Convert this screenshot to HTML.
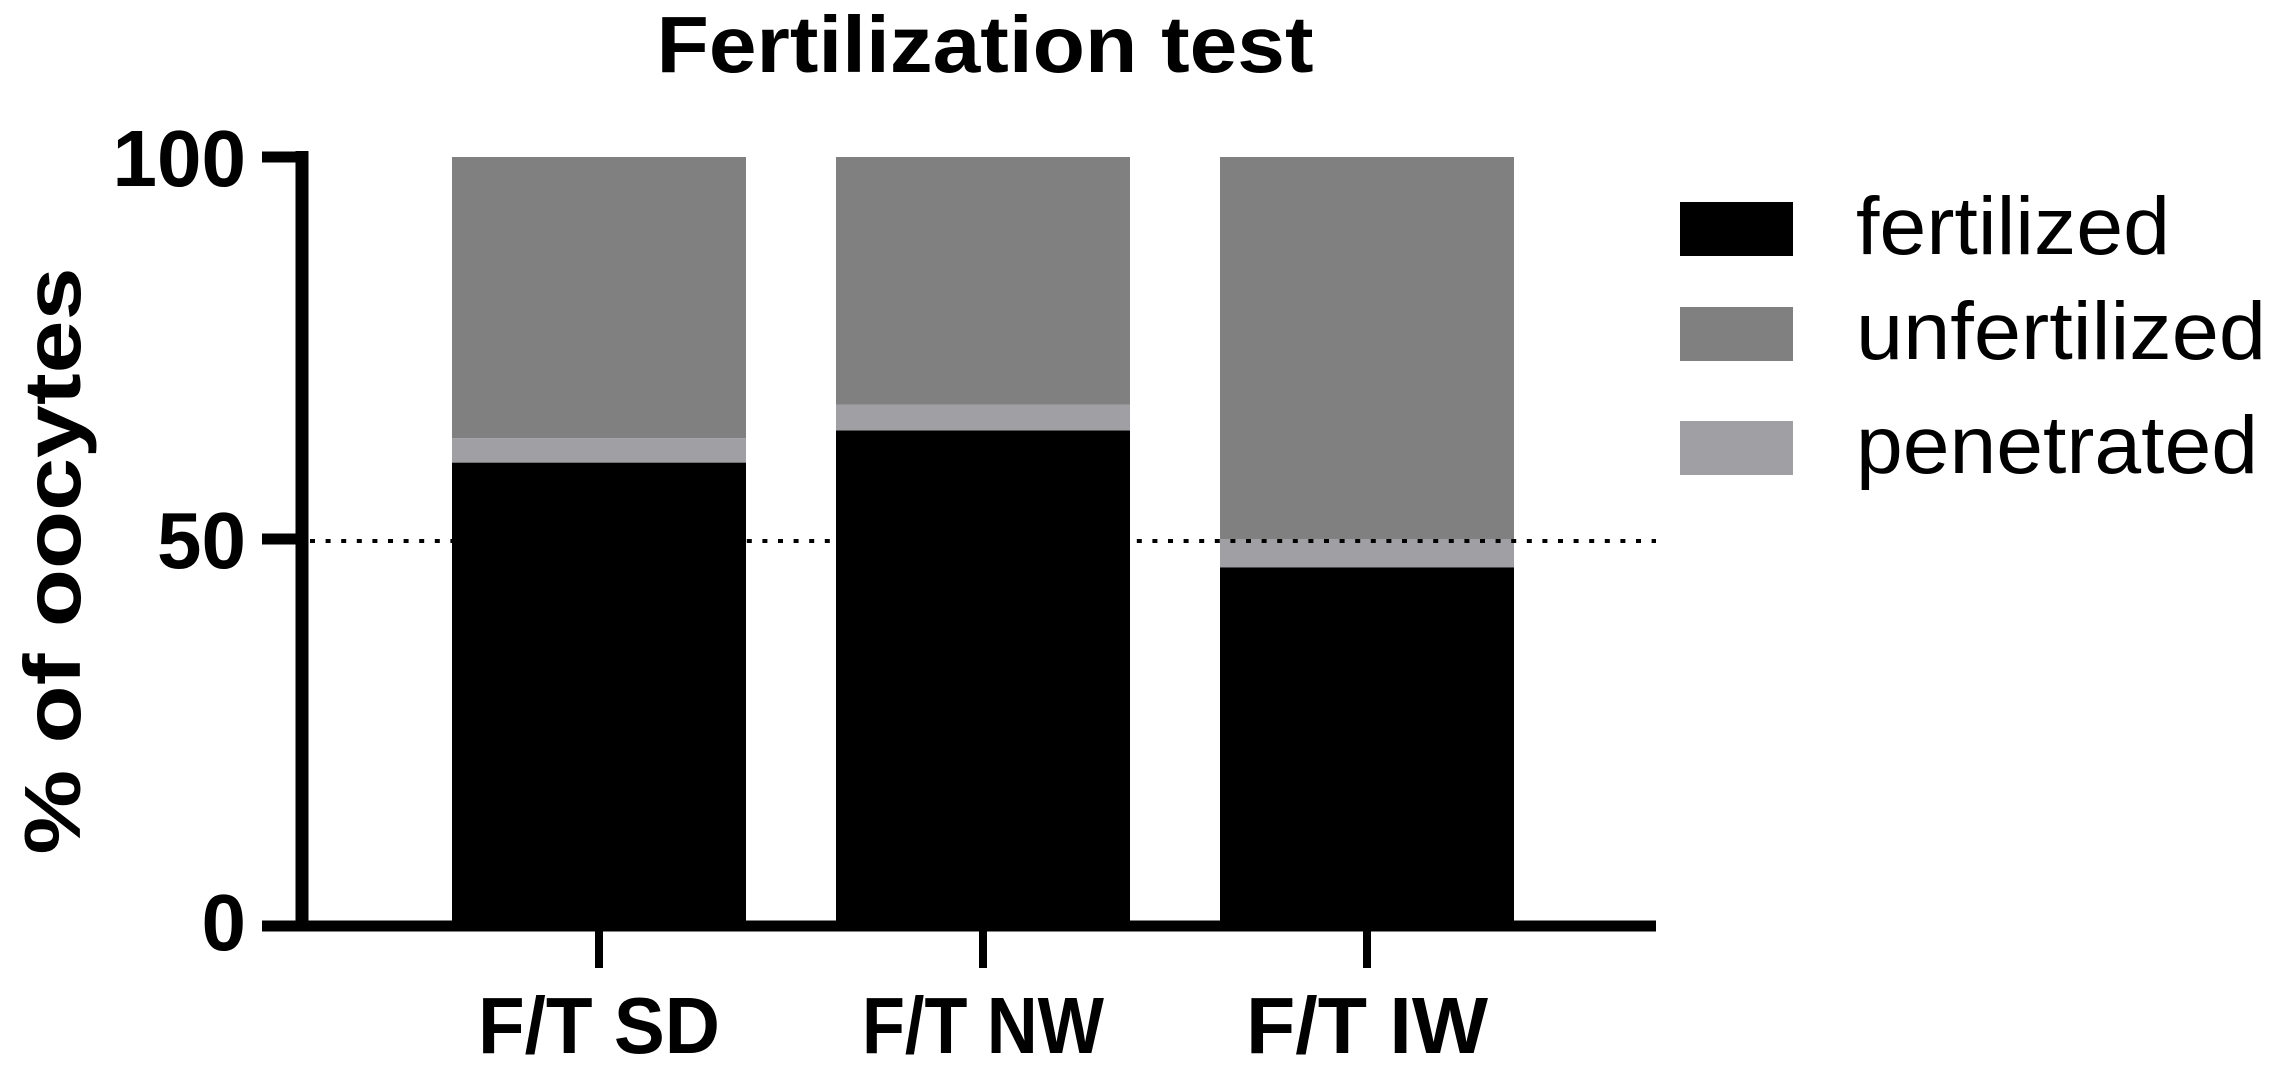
<!DOCTYPE html>
<html><head><meta charset="utf-8"><style>
html,body{margin:0;padding:0;background:#fff;}
svg{display:block;font-family:"Liberation Sans",Arial,sans-serif;}
</style></head><body>
<svg id="chart" width="2270" height="1065" viewBox="0 0 2270 1065" xmlns="http://www.w3.org/2000/svg">
<text x="985" y="72" font-size="80" font-weight="bold" text-anchor="middle" textLength="657" lengthAdjust="spacingAndGlyphs">Fertilization test</text>
<text transform="translate(80,561) rotate(-90)" font-size="80" font-weight="bold" text-anchor="middle" textLength="587" lengthAdjust="spacingAndGlyphs">% of oocytes</text>
<g id="bars"></g>
<g id="axes"></g>
<g id="legend"></g>
</svg>
<script>
const categories = ["F/T SD", "F/T NW", "F/T IW"];
const fertilized = [60, 64.2, 46.3];
const penetrated = [3.2, 3.4, 3.7];
const unfertilized = [36.8, 32.4, 50];
const yTicks = [0, 50, 100];
const refLine = [50];
const seriesNames = ["fertilized", "unfertilized", "penetrated"];

const NS = "http://www.w3.org/2000/svg";
const Y0 = 921, Y100 = 157;
function yScale(v){ return Y0 + (Y100 - Y0) * v / 100; }
const X_FIRST = 599, X_STEP = 384, BAR_W = 294;
function xScale(i){ return X_FIRST + i * X_STEP; }
function mk(tag, attrs, parent){
  const e = document.createElementNS(NS, tag);
  for (const k in attrs) e.setAttribute(k, attrs[k]);
  parent.appendChild(e);
  return e;
}
const colors = {fertilized:"#000000", unfertilized:"#808080", penetrated:"#a0a0a4"};
const bars = document.getElementById("bars");
categories.forEach((c, i) => {
  const x = xScale(i) - BAR_W/2;
  const segs = [["fertilized", fertilized[i]], ["penetrated", penetrated[i]], ["unfertilized", unfertilized[i]]];
  let base = 0;
  segs.forEach(([name, v]) => {
    const r = mk("rect", {x: x, y: yScale(base + v), width: BAR_W, height: yScale(base) - yScale(base + v), fill: colors[name]}, bars);
    
    
    base += v;
  });
});
const axes = document.getElementById("axes");
refLine.forEach(v => {
  const l = mk("line", {x1: 310, x2: 1656, y1: yScale(v) + 2, y2: yScale(v) + 2, stroke: "#000", "stroke-width": 4, "stroke-dasharray": "5 10.6"}, axes);
  
  
});
let ya = mk("line", {x1: 302, x2: 302, y1: yScale(100) - 6, y2: Y0 + 10, stroke: "#000", "stroke-width": 13}, axes);


let xa = mk("line", {x1: 262, x2: 1656, y1: Y0 + 5, y2: Y0 + 5, stroke: "#000", "stroke-width": 11}, axes);


yTicks.forEach(v => {
  const t = mk("line", {x1: 262, x2: 302, y1: yScale(v) + (v === 0 ? 5 : 0), y2: yScale(v) + (v === 0 ? 5 : 0), stroke: "#000", "stroke-width": 11}, axes);
  
  
  const tx = mk("text", {x: 246, y: yScale(v) + 29, "font-size": 80, "font-weight": "bold", "text-anchor": "end"}, axes);
  tx.textContent = String(v);
  
  
});
categories.forEach((c, i) => {
  const t = mk("line", {x1: xScale(i), x2: xScale(i), y1: Y0 + 5, y2: 968, stroke: "#000", "stroke-width": 8}, axes);
  
  
  const tx = mk("text", {x: xScale(i), y: 1053, "font-size": 80, "font-weight": "bold", "text-anchor": "middle", textLength: 242, lengthAdjust: "spacingAndGlyphs"}, axes);
  tx.textContent = c;
  
  
});
const legend = document.getElementById("legend");
const legBoxY = [202, 307, 421];
const legTextW = [314, 410, 402];
seriesNames.forEach((n, i) => {
  const r = mk("rect", {x: 1680, y: legBoxY[i], width: 113, height: 54, fill: colors[n]}, legend);
  
  
  const t = mk("text", {x: 1856, y: legBoxY[i] + 52, "font-size": 82, textLength: legTextW[i], lengthAdjust: "spacingAndGlyphs"}, legend);
  t.textContent = n;
  
  
});
</script>
</body></html>
